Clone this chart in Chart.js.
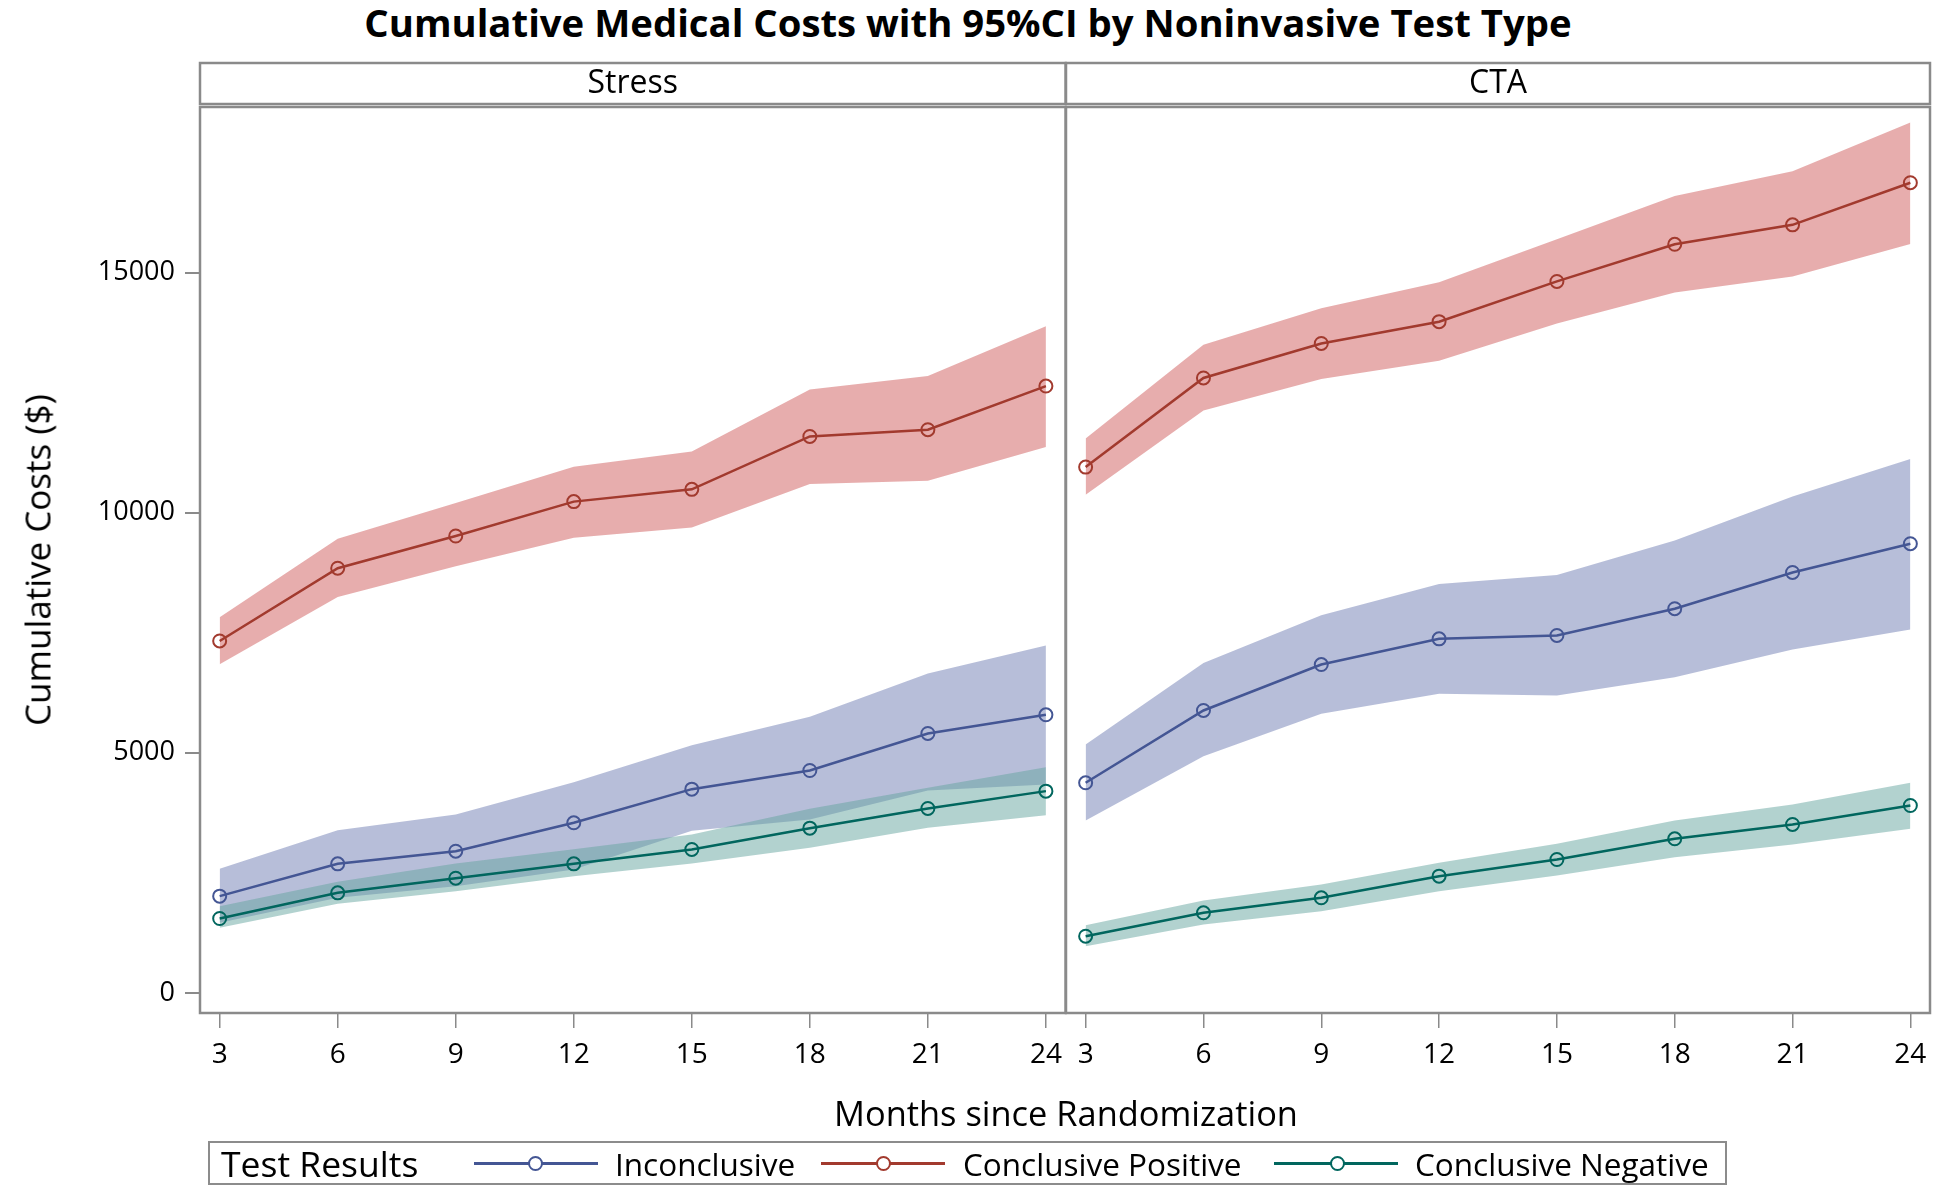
<!DOCTYPE html>
<html>
<head>
<meta charset="utf-8">
<script src="https://cdn.jsdelivr.net/npm/chart.js@4.4.1/dist/chart.umd.min.js"></script>
<style>
  html, body { margin:0; padding:0; background:#fff; }
  body { width:1944px; height:1190px; position:relative; overflow:hidden; font-family:"Open Sans", sans-serif; color:#000; }
  canvas { position:absolute; top:0; }
  .txt { position:absolute; white-space:nowrap; line-height:1; }
  #legend { position:absolute; left:208px; top:1141px; width:1515px; height:40px; border:2px solid #8c8c8c; }
  .lgline { position:absolute; top:19px; height:2.5px; width:124px; }
  .lgmark { position:absolute; top:13px; width:11px; height:11px; border:2px solid; border-radius:50%; background:#fff; }
</style>
</head>
<body>
<div class="txt" id="title" style="font-weight:bold;font-size:38.3px;left:968px;top:3px;transform:translateX(-50%);">Cumulative Medical Costs with 95%CI by Noninvasive Test Type</div>
<canvas id="cL" width="1072" height="1190" style="left:0px;"></canvas>
<canvas id="cR" width="880" height="1190" style="left:1064px;"></canvas>
<div class="txt" id="xtitle" style="font-size:34.4px;left:1066px;top:1096px;transform:translateX(-50%);">Months since Randomization</div>
<div class="txt" id="ytitle" style="font-size:35px;left:37px;top:560px;transform:translate(-50%,-50%) rotate(-90deg);">Cumulative Costs ($)</div>
<div id="legend">
  <div class="txt" style="font-size:35.5px;left:11px;top:3px;">Test Results</div>
  <div class="lgline" style="left:264px;background:#445694;"></div>
  <div class="lgmark" style="left:318px;border-color:#445694;"></div>
  <div class="txt" style="font-size:31.5px;left:405px;top:5px;">Inconclusive</div>
  <div class="lgline" style="left:611px;background:#A23A2E;"></div>
  <div class="lgmark" style="left:666px;border-color:#A23A2E;"></div>
  <div class="txt" style="font-size:31.5px;left:753px;top:5px;">Conclusive Positive</div>
  <div class="lgline" style="left:1064px;background:#01665E;"></div>
  <div class="lgmark" style="left:1120px;border-color:#01665E;"></div>
  <div class="txt" style="font-size:31.5px;left:1205px;top:5px;">Conclusive Negative</div>
</div>
<script>
// ---- data ----
const months = [3, 6, 9, 12, 15, 18, 21, 24];
const panels = ["Stress", "CTA"];
const yTicks = [0, 5000, 10000, 15000];

const stressInconclusive      = [2014, 2687, 2950, 3541, 4242, 4631, 5402, 5791];
const stressInconclusiveUpper = [2583, 3388, 3715, 4388, 5159, 5750, 6652, 7235];
const stressInconclusiveLower = [1458, 1979, 2221, 2569, 3375, 3610, 4215, 4340];

const stressPositive      = [7329, 8844, 9515, 10231, 10487, 11588, 11729, 12638];
const stressPositiveUpper = [7823, 9458, 10200, 10956, 11277, 12567, 12845, 13883];
const stressPositiveLower = [6844, 8246, 8883, 9481, 9690, 10598, 10665, 11366];

const stressNegative      = [1548, 2083, 2388, 2687, 2986, 3430, 3840, 4201];
const stressNegativeUpper = [1805, 2312, 2694, 2990, 3298, 3833, 4271, 4700];
const stressNegativeLower = [1354, 1854, 2117, 2430, 2694, 3021, 3437, 3700];

const ctaInconclusive      = [4375, 5881, 6838, 7373, 7443, 8000, 8756, 9354];
const ctaInconclusiveUpper = [5173, 6868, 7862, 8517, 8700, 9419, 10335, 11117];
const ctaInconclusiveLower = [3590, 4930, 5812, 6229, 6194, 6575, 7152, 7569];

const ctaPositive      = [10950, 12806, 13525, 13979, 14817, 15590, 15996, 16873];
const ctaPositiveUpper = [11548, 13500, 14258, 14800, 15694, 16594, 17113, 18125];
const ctaPositiveLower = [10375, 12129, 12783, 13167, 13940, 14585, 14919, 15598];

const ctaNegative      = [1180, 1667, 1979, 2430, 2777, 3208, 3507, 3902];
const ctaNegativeUpper = [1409, 1923, 2256, 2708, 3104, 3590, 3923, 4375];
const ctaNegativeLower = [972, 1424, 1701, 2118, 2444, 2826, 3090, 3417];

// ---- styles ----
const LINE = { inc: '#445694', pos: '#A23A2E', neg: '#01665E' };
const FILL = { inc: 'rgba(111,126,179,0.5)', pos: 'rgba(208,91,91,0.5)', neg: 'rgba(102,165,160,0.5)' };
const FRAME = '#8a8a8a';
const FONT = '"Open Sans", sans-serif';

function pts(arr) { return months.map((m, i) => ({ x: m, y: arr[i] })); }

function buildDatasets(g) {
  const meanDs = (data, c) => ({
    data: pts(data), borderColor: c, borderWidth: 2.5, pointRadius: 6.5, pointHoverRadius: 6.5,
    pointBorderWidth: 2, pointBackgroundColor: 'rgba(0,0,0,0)', pointBorderColor: c, fill: false, tension: 0
  });
  const bandUp = (data, fillc, target) => ({
    data: pts(data), borderWidth: 0, pointRadius: 0, backgroundColor: fillc, borderColor: 'rgba(0,0,0,0)',
    fill: { target: target }, tension: 0
  });
  const bandLo = (data) => ({
    data: pts(data), borderWidth: 0, pointRadius: 0, borderColor: 'rgba(0,0,0,0)', fill: false, tension: 0
  });
  return [
    meanDs(g.neg, LINE.neg),          // 0
    meanDs(g.pos, LINE.pos),          // 1
    meanDs(g.inc, LINE.inc),          // 2
    bandUp(g.negU, FILL.neg, 4),      // 3
    bandLo(g.negL),                   // 4
    bandUp(g.posU, FILL.pos, 6),      // 5
    bandLo(g.posL),                   // 6
    bandUp(g.incU, FILL.inc, 8),      // 7
    bandLo(g.incL)                    // 8
  ];
}

const panelPlugin = {
  id: 'panelFrame',
  afterDraw(chart, args, opts) {
    const { ctx, chartArea: a } = chart;
    ctx.save();
    ctx.strokeStyle = FRAME;
    ctx.lineWidth = 2.5;
    ctx.strokeRect(a.left, 63, a.right - a.left, 41);
    ctx.strokeRect(a.left, a.top, a.right - a.left, a.bottom - a.top);
    ctx.fillStyle = '#000';
    ctx.font = '32px ' + FONT;
    ctx.textAlign = 'center';
    ctx.textBaseline = 'middle';
    ctx.fillText(opts.label, (a.left + a.right) / 2, 84);
    ctx.restore();
  }
};

function makeChart(id, label, g, showY, padding, target) {
  const chart = new Chart(document.getElementById(id), {
    type: 'line',
    data: { datasets: buildDatasets(g) },
    plugins: [panelPlugin],
    options: {
      responsive: false, maintainAspectRatio: false, animation: false,
      devicePixelRatio: 1,
      layout: { padding: padding, autoPadding: false },
      plugins: {
        legend: { display: false }, tooltip: { enabled: false }, title: { display: false },
        filler: { drawTime: 'beforeDatasetsDraw' },
        panelFrame: { label: label }
      },
      scales: {
        x: {
          type: 'linear', min: 2.5, max: 24.5,
          afterBuildTicks: (s) => { s.ticks = months.map(v => ({ value: v })); },
          afterFit: (s) => { s.height = 177; },
          grid: { display: true, drawOnChartArea: false, drawTicks: true, tickLength: 15, color: FRAME, lineWidth: 1.5 },
          border: { display: false },
          ticks: { color: '#000', font: { family: FONT, size: 28 }, padding: 10, maxRotation: 0, autoSkip: false }
        },
        y: {
          display: showY,
          min: -420, max: 18450,
          afterBuildTicks: (s) => { s.ticks = yTicks.map(v => ({ value: v })); },
          afterFit: (s) => { s.width = showY ? 200 : 0; },
          grid: { display: true, drawOnChartArea: false, drawTicks: true, tickLength: 15, color: FRAME, lineWidth: 2 },
          border: { display: false },
          ticks: { color: '#000', font: { family: FONT, size: 27 }, padding: 10, callback: v => String(v) }
        }
      }
    }
  });
  // align the plotting area with the target frame (canvas coordinates)
  const a = chart.chartArea;
  const p = chart.options.layout.padding;
  p.left += target.left - a.left;
  p.right += a.right - target.right;
  p.top += target.top - a.top;
  p.bottom += a.bottom - target.bottom;
  chart.update('none');
  return chart;
}

makeChart('cL', panels[0], {
  inc: stressInconclusive, incU: stressInconclusiveUpper, incL: stressInconclusiveLower,
  pos: stressPositive, posU: stressPositiveUpper, posL: stressPositiveLower,
  neg: stressNegative, negU: stressNegativeUpper, negL: stressNegativeLower
}, true, { top: 107, right: 2, left: 0, bottom: 0 }, { left: 200, right: 1064, top: 107, bottom: 1013 });

makeChart('cR', panels[1], {
  inc: ctaInconclusive, incU: ctaInconclusiveUpper, incL: ctaInconclusiveLower,
  pos: ctaPositive, posU: ctaPositiveUpper, posL: ctaPositiveLower,
  neg: ctaNegative, negU: ctaNegativeUpper, negL: ctaNegativeLower
}, false, { top: 107, right: 14, left: 2, bottom: 0 }, { left: 2, right: 866, top: 107, bottom: 1013 });
</script>
</body>
</html>
